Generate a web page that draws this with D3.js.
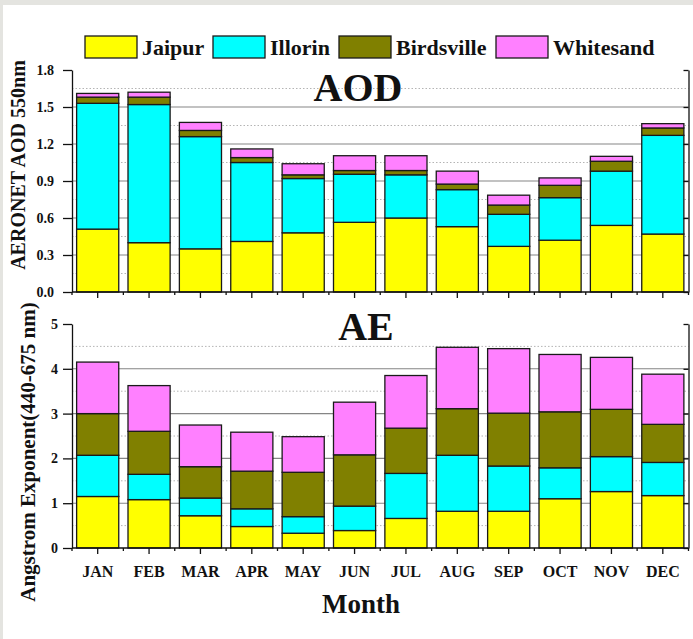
<!DOCTYPE html>
<html>
<head>
<meta charset="utf-8">
<script src="https://cdn.jsdelivr.net/npm/d3@7"></script>
<style>
  html, body { margin: 0; padding: 0; background: #e4e4e0; }
  svg { display: block; }
  text { font-family: "Liberation Serif", "Times New Roman", serif; font-weight: bold; fill: #111; }
</style>
</head>
<body>
<svg id="chart" width="693" height="639"></svg>
<script>
// Monthly stacked contributions per AERONET site
const months = ["JAN","FEB","MAR","APR","MAY","JUN","JUL","AUG","SEP","OCT","NOV","DEC"];
const sites = ["Jaipur","Illorin","Birdsville","Whitesand"];
const siteColors = ["#ffff00","#00ffff","#808000","#ff80ff"];

// AOD at 550 nm
const aodJaipur     = [0.51, 0.40, 0.35, 0.41, 0.48, 0.565, 0.60, 0.53, 0.37, 0.42, 0.54, 0.47];
const aodIllorin    = [1.02, 1.12, 0.91, 0.64, 0.44, 0.39, 0.35, 0.30, 0.26, 0.345, 0.44, 0.80];
const aodBirdsville = [0.05, 0.06, 0.05, 0.04, 0.03, 0.03, 0.035, 0.045, 0.075, 0.10, 0.08, 0.06];
const aodWhitesand  = [0.03, 0.04, 0.065, 0.07, 0.09, 0.12, 0.12, 0.105, 0.08, 0.06, 0.04, 0.035];

// Angstrom exponent (440-675 nm)
const aeJaipur     = [1.15, 1.08, 0.72, 0.48, 0.33, 0.39, 0.66, 0.82, 0.82, 1.10, 1.26, 1.17];
const aeIllorin    = [0.92, 0.565, 0.395, 0.395, 0.37, 0.545, 1.005, 1.25, 1.01, 0.69, 0.78, 0.74];
const aeBirdsville = [0.93, 0.96, 0.70, 0.84, 0.99, 1.145, 1.01, 1.04, 1.18, 1.25, 1.055, 0.85];
const aeWhitesand  = [1.15, 1.02, 0.93, 0.87, 0.795, 1.175, 1.175, 1.37, 1.44, 1.28, 1.16, 1.12];

const aodTicks = [0, 0.3, 0.6, 0.9, 1.2, 1.5, 1.8];
const aodMinor = [0.15, 0.45, 0.75, 1.05, 1.35, 1.65];
const aeTicks = [0, 1, 2, 3, 4, 5];
const aeMinor = [0.5, 1.5, 2.5, 3.5, 4.5];

const svg = d3.select("#chart");

// white page area inside the grey frame
svg.append("rect").attr("x", 3).attr("y", 5).attr("width", 690).attr("height", 634).attr("fill", "#ffffff");

const x0 = 72, x1 = 688.5;
const x = d3.scaleBand().domain(months).range([x0, x1]).paddingInner(0.18).paddingOuter(0.09);
const step = x.step();

function panel(cfg) {
  const { y, ticks, minor, series, fmt, labelEnd, title, titleX, titleY, showMonths } = cfg;
  const g = svg.append("g");
  const [yb, yt] = y.range();

  // horizontal grid: solid at major ticks, dotted at minor ticks
  g.append("g").selectAll("line").data(ticks.filter(t => t > 0 && t < y.domain()[1]))
    .join("line")
    .attr("x1", x0).attr("x2", x1)
    .attr("y1", d => y(d)).attr("y2", d => y(d))
    .attr("stroke", "#858585").attr("stroke-width", 1.1);
  g.append("g").selectAll("line").data(minor)
    .join("line")
    .attr("x1", x0).attr("x2", x1)
    .attr("y1", d => y(d)).attr("y2", d => y(d))
    .attr("stroke", "#b4b4b4").attr("stroke-width", 1).attr("stroke-dasharray", "1.5,2");

  // stacked bars
  const rows = months.map((m, i) => {
    const r = { month: m };
    sites.forEach((s, k) => r[s] = series[k][i]);
    return r;
  });
  const stacked = d3.stack().keys(sites)(rows);
  g.append("g").selectAll("g").data(stacked).join("g")
    .attr("fill", (d, k) => siteColors[k])
    .selectAll("rect").data(d => d).join("rect")
    .attr("x", d => x(d.data.month))
    .attr("width", x.bandwidth())
    .attr("y", d => y(d[1]))
    .attr("height", d => y(d[0]) - y(d[1]))
    .attr("stroke", "#1a1a1a").attr("stroke-width", 1.3);

  // left axis with outward ticks
  const left = g.append("g").attr("transform", `translate(${x0},0)`);
  left.call(d3.axisLeft(y).tickValues(minor).tickSize(5).tickSizeOuter(0).tickFormat(""));
  left.call(d3.axisLeft(y).tickValues(ticks).tickSize(9).tickSizeOuter(0).tickPadding(labelEnd).tickFormat(fmt));
  left.selectAll("text").style("font-size", "14px").attr("fill", "#111");

  // right axis with inward ticks
  const right = g.append("g").attr("transform", `translate(${x1},0)`);
  right.call(d3.axisRight(y).tickValues(minor).tickSize(-3).tickSizeOuter(0).tickFormat(""));
  right.call(d3.axisRight(y).tickValues(ticks).tickSize(-5).tickSizeOuter(0).tickFormat(""));

  // bottom axis: long ticks at month centres, short ticks at band edges
  const bottom = g.append("g").attr("transform", `translate(0,${yb})`);
  bottom.append("line").attr("x1", x0).attr("x2", x1).attr("stroke", "#111").attr("stroke-width", 1.3);
  bottom.selectAll("line.maj").data(months).join("line").attr("class", "maj")
    .attr("x1", d => x(d) + x.bandwidth() / 2).attr("x2", d => x(d) + x.bandwidth() / 2)
    .attr("y1", 0).attr("y2", 6).attr("stroke", "#111").attr("stroke-width", 1.3);
  const edges = months.map(d => x(d) + x.bandwidth() / 2 - step / 2).concat([x1]);
  bottom.selectAll("line.mnr").data(edges).join("line").attr("class", "mnr")
    .attr("x1", d => d).attr("x2", d => d)
    .attr("y1", 0).attr("y2", 3).attr("stroke", "#111").attr("stroke-width", 1.3);
  if (showMonths) {
    bottom.selectAll("text").data(months).join("text")
      .attr("x", d => x(d) + x.bandwidth() / 2).attr("y", 29)
      .attr("text-anchor", "middle").style("font-size", "16px").text(d => d);
  }

  g.selectAll(".domain, .tick line").attr("stroke", "#111").attr("stroke-width", 1.3);

  g.append("text").attr("x", titleX).attr("y", titleY).attr("text-anchor", "middle")
    .style("font-size", "40px").text(title);
}

const yAod = d3.scaleLinear().domain([0, 1.8]).range([292, 70]);
const yAe = d3.scaleLinear().domain([0, 5]).range([548, 324]);

panel({ y: yAod, ticks: aodTicks, minor: aodMinor,
  series: [aodJaipur, aodIllorin, aodBirdsville, aodWhitesand],
  fmt: d3.format(".1f"), labelEnd: 9, title: "AOD", titleX: 358, titleY: 101, showMonths: false });

panel({ y: yAe, ticks: aeTicks, minor: aeMinor,
  series: [aeJaipur, aeIllorin, aeBirdsville, aeWhitesand],
  fmt: d3.format("d"), labelEnd: 5, title: "AE", titleX: 366, titleY: 340, showMonths: true });

// axis titles
svg.append("text").attr("transform", "translate(25,165) rotate(-90)")
  .attr("text-anchor", "middle").style("font-size", "20px").text("AERONET AOD 550nm");
svg.append("text").attr("transform", "translate(35,452) rotate(-90)")
  .attr("text-anchor", "middle").style("font-size", "21px").text("Angstrom Exponent(440-675 nm)");
svg.append("text").attr("x", 361).attr("y", 613).attr("text-anchor", "middle")
  .style("font-size", "27px").text("Month");

// legend
const legendX = [85, 213, 339, 496];
const lg = svg.append("g");
sites.forEach((s, k) => {
  lg.append("rect").attr("x", legendX[k]).attr("y", 36).attr("width", 52).attr("height", 22)
    .attr("fill", siteColors[k]).attr("stroke", "#1a1a1a").attr("stroke-width", 1.3);
  lg.append("text").attr("x", legendX[k] + 57).attr("y", 55)
    .style("font-size", "22px").text(s);
});
</script>
</body>
</html>
